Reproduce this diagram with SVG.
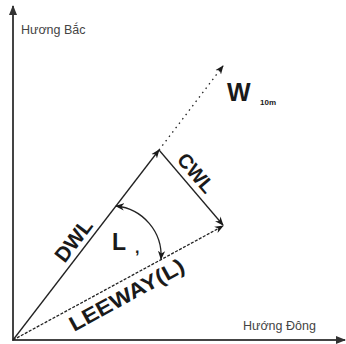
<svg xmlns="http://www.w3.org/2000/svg" width="346" height="344" viewBox="0 0 346 344">
<style>
.ax{stroke:#444;stroke-width:2;fill:none}
.ln{stroke:#222;stroke-width:1.3;fill:none}
.lbl{font-family:"Liberation Sans",Arial,sans-serif;font-weight:bold;fill:#1a1a1a}
.axl{font-family:"Liberation Sans",Arial,sans-serif;font-size:12.5px;fill:#444}
</style>
<defs>
<marker id="ah" viewBox="0 0 10 10" refX="9" refY="5" markerWidth="9" markerHeight="9" markerUnits="userSpaceOnUse" orient="auto-start-reverse">
<path d="M0,1 L10,5 L0,9 L3,5 Z" fill="#1a1a1a"/>
</marker>
<marker id="ahx" viewBox="0 0 10 10" refX="9" refY="5" markerWidth="10" markerHeight="10" markerUnits="userSpaceOnUse" orient="auto">
<path d="M0,1 L10,5 L0,9 Z" fill="#333"/>
</marker>
</defs>
<g id="connectors">
<line class="ax" x1="13" y1="341" x2="13" y2="6" marker-end="url(#ahx)"/>
<line class="ax" x1="12" y1="340" x2="345" y2="340" marker-end="url(#ahx)"/>
<line class="ln" x1="13" y1="340" x2="159" y2="150" marker-end="url(#ah)"/>
<line class="ln" x1="159" y1="150" x2="223" y2="66" stroke-dasharray="1.5 4" marker-end="url(#ah)"/>
<line class="ln" x1="159" y1="150" x2="223" y2="225" marker-end="url(#ah)"/>
<line class="ln" x1="13" y1="340" x2="223" y2="226" stroke-dasharray="3 1.5" marker-end="url(#ah)"/>
<path class="ln" d="M116,206 A50,50 0 0 1 161,259" marker-start="url(#ah)" marker-end="url(#ah)"/>
</g>
<g id="north"><text class="axl" x="21" y="34">Hương Bắc</text></g>
<g id="east"><text class="axl" x="243" y="330">Hướng Đông</text></g>
<g id="w10"><text class="lbl" x="227" y="101" font-size="25">W</text><text class="lbl" x="260" y="105" font-size="8">10m</text></g>
<g id="dwl"><text class="lbl" font-size="21" text-anchor="middle" transform="translate(73,240) rotate(-52.5)" y="8">DWL</text></g>
<g id="cwl"><text class="lbl" font-size="20" text-anchor="middle" transform="translate(196,173) rotate(49.5)" y="7">CWL</text></g>
<g id="leeway"><text class="lbl" font-size="21" transform="translate(74,332) rotate(-28.7)" textLength="128" lengthAdjust="spacingAndGlyphs">LEEWAY(L)</text></g>
<g id="angle"><text class="lbl" x="112" y="250" font-size="23">L</text><text class="lbl" x="135" y="253" font-size="16">,</text></g>
</svg>
